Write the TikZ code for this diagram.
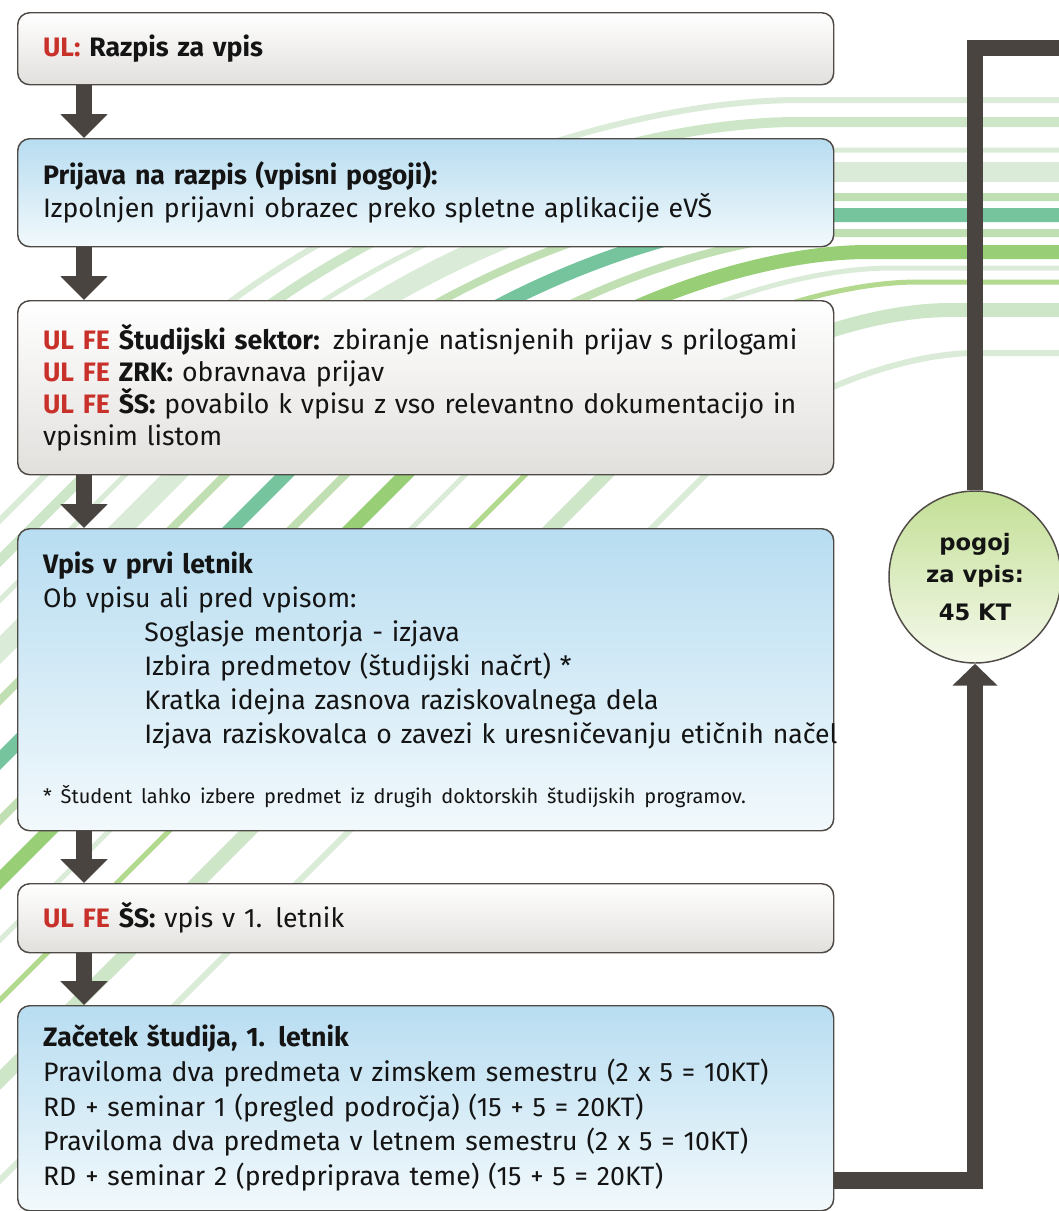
\documentclass[tikz,border=0pt]{standalone}
\usepackage{fontspec}
\setmainfont{Fira Sans}
\newfontfamily\circfont{DejaVu Sans}
\usetikzlibrary{arrows.meta,calc}
\definecolor{ulred}{HTML}{C8302A}
\definecolor{arrowc}{HTML}{4A4440}
\definecolor{boxline}{HTML}{4F4A45}
\definecolor{bluetop}{HTML}{B8DDF1}
\definecolor{bluebot}{HTML}{F2F9FC}
\definecolor{graybot}{HTML}{E2E0DD}
\definecolor{greentop}{HTML}{C3DF96}
\definecolor{greenbot}{HTML}{F5F9EC}
\definecolor{sA}{HTML}{D4E9D0}
\definecolor{sB}{HTML}{C4E2BD}
\definecolor{sC}{HTML}{5DBA8C}
\definecolor{sD}{HTML}{86C55E}
\definecolor{sE}{HTML}{A5D27A}
\definecolor{sF}{HTML}{B5DBA6}
\newcommand\redt[1]{\textcolor{ulred}{#1}}
\begin{document}
\begin{tikzpicture}[x=0.75pt,y=-0.75pt,
  box/.style={draw=boxline, line width=1.1pt, rounded corners=9pt,
    minimum width=612pt, text width=574pt, anchor=north west, align=left,
    inner xsep=19pt, inner ysep=0pt, text=black!92,
    font=\fontsize{20}{24}\selectfont},
  graybox/.style={box, top color=white, bottom color=graybot},
  bluebox/.style={box, top color=bluetop, bottom color=bluebot},
  conn/.style={draw=arrowc, line width=12pt, -{Triangle[width=34.5pt,length=18pt]}},
  bar/.style={draw=arrowc, line width=12.5pt},
]
\useasboundingbox (0,0) rectangle (1059,1211);
% background stripes
\begin{scope}[opacity=0.85]
\clip (0,0) rectangle (1059,1211);
\foreach \yh/\c/\w/\col/\r in {100/520/6/sA/380, 122/560/10/sB/360, 150/600/5/sA/340,
  172/650/20/sA/320, 197/700/8/sF/300, 215/760/14/sC/280, 233/820/8/sF/260,
  252/880/14/sD/240, 268/940/5/sA/220, 282/1000/5/sE/200, 310/1080/14/sB/180,
  353/1180/6/sA/150}{
  \draw[draw=\col, line width={\w*0.75pt}, rounded corners={\r*0.75pt}]
    ({\c-1400},1400) -- ({\c-\yh},\yh) -- (1100,\yh);
}
\end{scope}

\node[graybox, minimum height=54pt, font=\bfseries\fontsize{20}{24}\selectfont] (b1) at (17,12)
  {\redt{UL:} Razpis za vpis};
\node[bluebox, minimum height=81pt, font=\fontsize{20}{24.75}\selectfont] (b2) at (17,138)
  {\textbf{Prijava na razpis (vpisni pogoji):}\\
   Izpolnjen prijavni obrazec preko spletne aplikacije eVŠ};
\node[graybox, minimum height=130.5pt] (b3) at (17,300)
  {\mbox{\textbf{\redt{UL FE} Študijski sektor:} zbiranje natisnjenih prijav s prilogami}\\
   \textbf{\redt{UL FE} ZRK:} obravnava prijav\\
   \mbox{\textbf{\redt{UL FE} ŠS:} povabilo k vpisu z vso relevantno dokumentacijo in}\\
   vpisnim listom};
\node[bluebox, minimum height=226.5pt, font=\fontsize{20}{25.5}\selectfont] (b4) at (17,528)
  {\textbf{Vpis v prvi letnik}\\
   Ob vpisu ali pred vpisom:\\
   \hspace*{76pt}Soglasje mentorja - izjava\\
   \hspace*{76pt}Izbira predmetov (študijski načrt) *\\
   \hspace*{76pt}Kratka idejna zasnova raziskovalnega dela\\
   \hspace*{76pt}\mbox{Izjava raziskovalca o zavezi k uresničevanju etičnih načel}\\[20pt]
   \mbox{\fontsize{15}{17}\selectfont * Študent lahko izbere predmet iz drugih doktorskih študijskih programov.}};
\node[graybox, minimum height=51.75pt] (b5) at (17,883)
  {\textbf{\redt{UL FE} ŠS:} vpis v 1. letnik};
\node[bluebox, minimum height=153.75pt, font=\fontsize{20}{26}\selectfont] (b6) at (17,1005)
  {\textbf{Začetek študija, 1. letnik}\\
   \mbox{Praviloma dva predmeta v zimskem semestru (2 x 5 = 10KT)}\\
   RD + seminar 1 (pregled področja) (15 + 5 = 20KT)\\
   \mbox{Praviloma dva predmeta v letnem semestru (2 x 5 = 10KT)}\\
   RD + seminar 2 (predpriprava teme) (15 + 5 = 20KT)};

\node[circle, minimum size=129pt, inner sep=0pt, draw=boxline, line width=1.1pt,
  top color=greentop, bottom color=greenbot, align=center, text=black!92,
  font=\circfont\bfseries\fontsize{17}{23.5}\selectfont] (c) at (975,577)
  {pogoj\\za vpis:\\[5pt]45 KT};

\draw[conn] ($(b1.south west)+(67,0)$) -- ($(b2.north west)+(67,0)$);
\draw[conn] ($(b2.south west)+(67,0)$) -- ($(b3.north west)+(67,0)$);
\draw[conn] ($(b3.south west)+(67,0)$) -- ($(b4.north west)+(67,0)$);
\draw[conn] ($(b4.south west)+(67,0)$) -- ($(b5.north west)+(67,0)$);
\draw[conn] ($(b5.south west)+(67,0)$) -- ($(b6.north west)+(67,0)$);

\draw[conn, line width=12.5pt, -{Triangle[width=33pt,length=16.5pt]}]
  ($(b6.east)+(0,72)$) -| (c.south);
\coordinate (topend) at (1080,48);
\draw[bar] (c.north) |- (topend);
\end{tikzpicture}
\end{document}
